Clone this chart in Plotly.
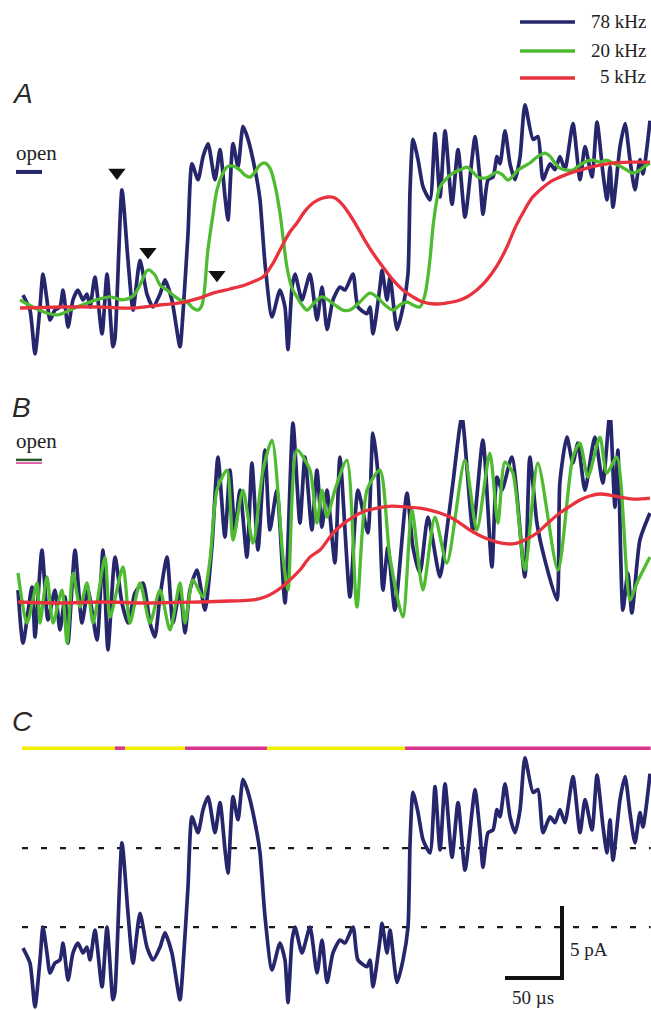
import plotly.graph_objects as go

# ---------------- data (time in µs, current in pA, closed level = 0) ----------------
# 78 kHz record (shown in A and again in C)
t78 = [4.4, 10.5, 14.9, 19.3, 21.9, 25.4, 28.1, 32.4, 36.8, 39.5,
       43.9, 48.2, 52.6, 57.0, 60.5, 63.2, 67.5, 73.7, 78.1, 83.3,
       85.0, 91.2, 96.5, 100.9, 107.0, 113.1, 118.4, 124.6, 128.9, 135.0,
       142.1, 144.7, 149.1, 152.6, 157.9, 162.3, 166.7, 172.8, 177.2, 181.6,
       184.2, 188.6, 193.0, 197.4, 201.8, 209.6, 212.3, 216.7, 222.8, 229.8,
       234.2, 236.8, 240.4, 243.0, 249.1, 256.1, 262.3, 266.7, 271.1, 276.3,
       282.5, 286.8, 293.9, 298.2, 306.1, 308.8, 311.4, 317.5, 319.3, 323.7,
       326.3, 332.5, 337.7, 342.1, 343.9, 346.5, 350.9, 355.3, 361.4, 365.8,
       370.2, 374.6, 380.7, 386.0, 392.1, 398.2, 400.9, 405.3, 407.9, 412.3,
       416.7, 420.2, 422.8, 427.2, 431.6, 436.0, 440.4, 444.7, 451.8, 456.1,
       460.5, 466.7, 471.1, 475.4, 479.8, 486.8, 493.0, 497.4, 503.5, 507.9,
       513.2, 516.7, 519.3, 521.9, 528.1, 532.5, 536.8, 541.2, 545.6, 548.2,
       554.4]
i78 = [0.69, -0.35, -3.4, -0.14, 2.15, 0.35, -1.04, -0.35, -0.14, 1.04,
       -1.53, 0.35, 1.04, 0.35, 0.76, -0.14, 1.94, -2.0, 2.15, -2.9,
       -2.4, 8.0, 3.1, -0.35, 3.1, 0.76, -0.14, 0.76, 1.74, 0.35,
       -2.9, -0.6, 4.9, 9.8, 8.7, 10.3, 11.2, 8.7, 10.8, 7.5,
       5.9, 11.2, 9.6, 12.4, 11.5, 8.7, 7.3, 2.85, -0.83, 1.04,
       -0.14, -3.1, 1.25, 2.15, 0.35, 2.15, -1.04, 1.25, -1.7, 0.35,
       1.25, 1.04, 2.15, -0.14, -0.6, -0.14, -2.0, 1.25, 2.4, 0.35,
       1.94, -1.7, -0.14, 2.15, 8.0, 11.5, 10.1, 8.2, 7.3, 11.9,
       7.5, 12.1, 7.0, 10.8, 6.1, 10.1, 11.7, 8.7, 6.3, 8.7,
       8.9, 10.3, 9.8, 12.1, 9.8, 8.7, 10.3, 13.9, 11.5, 11.7,
       8.7, 9.8, 9.4, 10.3, 9.4, 12.6, 8.7, 11.0, 8.9, 12.7,
       9.1, 7.3, 9.6, 6.8, 11.0, 12.6, 10.1, 8.0, 10.1, 9.1,
       12.8]

# A: 20 kHz filtered
t20A = [1.8, 14.9, 25.4, 34.2, 45.6, 51.7, 63.1, 71.9, 80.7, 92.1,
        100.9, 107.0, 114.0, 120.1, 124.5, 130.7, 135.9, 142.1, 148.2, 153.5,
        157.9, 161.4, 166.6, 171.0, 174.5, 178.9, 183.3, 188.6, 194.7, 199.1,
        203.5, 207.8, 212.2, 216.6, 221.0, 225.4, 229.8, 233.3, 235.9, 240.3,
        244.7, 249.1, 253.5, 260.5, 266.6, 271.9, 278.0, 285.0, 291.2, 299.9,
        308.7, 315.7, 321.9, 328.9, 335.0, 341.2, 346.5, 352.5, 356.9, 361.3,
        364.0, 367.4, 370.1, 376.3, 381.5, 387.6, 393.8, 399.0, 403.4, 409.6,
        413.9, 420.1, 425.3, 429.7, 434.1, 438.5, 442.9, 449.0, 455.2, 462.2,
        466.6, 471.0, 475.3, 481.5, 486.7, 492.9, 499.0, 504.3, 510.4, 516.5,
        521.8, 528.0, 534.1, 539.4, 545.5, 549.9, 554.3]
i20A = [0.35, -0.21, -0.56, -0.69, -0.35, -0.14, 0.21, 0.42, 0.56, 0.35,
        0.62, 1.39, 2.43, 2.08, 1.39, 1.04, 0.69, 0.35, 0.21, -0.21,
        -0.35, 0.0, 3.82, 6.25, 7.98, 9.02, 9.58, 9.65, 9.37, 9.02,
        8.88, 9.23, 9.72, 9.86, 9.51, 8.33, 6.39, 4.16, 2.64, 1.18,
        0.56, 0.0, -0.35, 0.21, 0.56, 0.35, 0.0, -0.35, -0.35, 0.21,
        0.83, 0.49, 0.0, -0.35, 0.0, 0.21, 0.0, -0.14, 0.69, 3.12,
        5.41, 7.29, 8.19, 8.81, 9.16, 9.37, 9.58, 9.23, 8.88, 8.81,
        8.95, 9.23, 9.02, 8.68, 8.95, 9.37, 9.58, 9.86, 10.27, 10.55,
        10.34, 9.86, 9.51, 9.37, 9.37, 9.72, 9.99, 10.06, 9.92, 10.06,
        9.86, 9.65, 9.37, 9.16, 9.37, 9.65, 9.86]

# A: 5 kHz filtered
t5A = [1.8, 36.8, 71.9, 100.9, 124.5, 142.1, 159.6, 171.0, 185.9, 199.1,
       207.8, 214.9, 222.8, 229.8, 238.5, 244.7, 251.7, 258.7, 264.9, 271.9,
       278.0, 284.2, 291.2, 298.2, 305.2, 313.1, 320.1, 328.9, 337.6, 346.4,
       355.2, 365.7, 376.2, 385.0, 393.8, 402.5, 411.3, 420.1, 428.9, 435.9,
       442.9, 450.8, 457.8, 466.6, 475.3, 486.7, 499.0, 510.4, 521.8, 536.8,
       554.3]
i5A = [-0.21, -0.14, -0.14, -0.21, 0.0, 0.14, 0.49, 0.83, 1.11, 1.39,
       1.67, 1.94, 2.78, 3.82, 5.07, 5.69, 6.52, 7.08, 7.36, 7.5,
       7.43, 7.01, 6.25, 5.34, 4.37, 3.4, 2.64, 1.74, 1.04, 0.56,
       0.21, 0.07, 0.14, 0.28, 0.56, 1.04, 1.74, 2.71, 4.03, 5.34,
       6.39, 7.43, 7.98, 8.54, 8.88, 9.23, 9.51, 9.72, 9.86, 9.92,
       9.92]

# B: 78 kHz record
tB78 = [0, 4.4, 12.3, 14.9, 21.0, 26.3, 32.4, 36.8, 41.2, 43.9,
        50.0, 56.1, 61.4, 69.3, 74.5, 78.9, 85.1, 91.2, 96.5, 102.6,
        109.6, 115.8, 120.1, 124.5, 130.7, 135.9, 142.1, 146.5, 150.8, 157.0,
        164.0, 170.1, 175.4, 181.5, 185.9, 190.3, 194.7, 200.8, 205.2, 210.5,
        216.6, 221.0, 227.1, 234.2, 241.2, 247.3, 251.7, 257.8, 262.2, 266.6,
        271.0, 278.0, 282.4, 291.2, 298.2, 306.9, 311.3, 315.7, 320.1, 324.5,
        330.6, 341.2, 346.4, 352.6, 359.6, 370.1, 376.2, 381.5, 389.4, 399.0,
        407.8, 415.7, 420.1, 424.5, 433.2, 444.6, 449.0, 455.2, 462.2, 472.7,
        475.3, 481.5, 486.7, 491.1, 497.3, 506.0, 513.0, 519.2, 523.6, 526.2,
        530.6, 535.0, 538.5, 545.5, 554.3]
iB78 = [0.83, -2.85, 1.04, -2.43, 3.61, -1.25, 0.83, -1.94, 0.35, -2.85,
        3.61, -1.46, 0.83, -2.64, 3.61, -3.33, 3.12, -0.07, -1.46, 0.62,
        1.32, -1.46, -2.43, 0.35, 3.12, -1.46, 0.83, -2.15, 0.83, 2.22,
        -0.56, 3.82, 10.06, 4.51, 9.16, 5.0, 7.77, 3.12, 9.65, 3.61,
        10.55, 5.0, 7.77, -0.07, 12.42, 5.48, 10.06, 5.0, 9.16, 5.2,
        7.77, 2.71, 10.06, 0.35, 7.77, 4.79, 11.73, 8.95, 0.83, 3.82,
        -0.56, 7.56, 3.82, 2.01, 5.9, 1.74, 5.0, 8.26, 12.84, 5.0,
        11.24, 2.43, 8.68, 7.77, 10.06, 1.74, 10.06, 5.48, 2.91, 0.14,
        8.26, 11.45, 9.65, 11.03, 7.77, 11.45, 8.26, 13.12, 6.59, 10.55,
        -0.56, 2.01, -0.76, 4.3, 6.18]

# B: 20 kHz filtered
tB20 = [0, 7.9, 16.7, 19.3, 25.4, 30.7, 38.6, 43.0, 48.2, 54.4,
        60.5, 65.8, 76.3, 80.7, 92.1, 98.2, 107.0, 115.8, 124.5, 133.3,
        142.1, 146.5, 153.5, 162.2, 168.4, 174.5, 183.3, 188.6, 197.3, 206.1,
        214.9, 222.8, 232.4, 236.8, 244.7, 256.1, 262.2, 266.6, 271.0, 278.0,
        288.5, 297.3, 306.1, 317.5, 326.2, 337.6, 345.5, 355.2, 365.7, 376.2,
        392.0, 402.5, 413.9, 421.0, 427.1, 434.1, 444.6, 456.0, 473.6, 486.7,
        492.9, 499.9, 510.4, 516.5, 525.3, 536.8, 542.9, 554.3]
iB20 = [2.01, -1.46, 1.32, -1.46, 1.74, -1.46, 0.83, -2.85, 2.01, -0.35,
        1.32, -1.46, 3.12, -1.04, 2.43, -1.46, 1.32, -1.46, 0.83, -1.94,
        1.32, -1.46, 1.53, 0.35, 2.91, 7.77, 9.16, 4.3, 7.77, 4.09,
        9.16, 11.24, 3.12, 0.83, 10.55, 9.16, 5.48, 7.77, 5.9, 7.77,
        9.85, -0.35, 7.77, 9.16, 3.12, -1.04, 6.38, 0.83, 5.9, 2.71,
        9.85, 5.0, 10.34, 5.48, 9.72, 8.95, 2.22, 9.65, 2.22, 10.06,
        11.03, 8.68, 11.45, 8.95, 10.06, 0.14, 1.32, 3.12]

# B: 5 kHz filtered
tB5 = [0, 36.8, 71.9, 115.8, 159.6, 185.9, 206.1, 216.6, 223.6, 231.5,
       238.5, 247.3, 256.1, 264.9, 276.3, 285.0, 293.8, 304.3, 314.8, 328.0,
       341.2, 352.5, 361.3, 370.1, 378.9, 387.6, 396.4, 407.8, 420.1, 429.7,
       437.6, 446.4, 455.2, 464.8, 475.3, 484.4, 492.9, 501.6, 510.4, 519.2,
       528.0, 539.4, 554.3]
iB5 = [0, -0.07, 0, -0.07, 0, 0.07, 0.14, 0.35, 0.62, 1.04,
       1.53, 2.22, 3.12, 3.61, 4.79, 5.41, 5.9, 6.32, 6.52, 6.66,
       6.59, 6.52, 6.38, 6.18, 5.9, 5.48, 5.0, 4.51, 4.16, 4.03,
       4.09, 4.37, 4.79, 5.48, 6.18, 6.66, 7.08, 7.36, 7.5, 7.43,
       7.29, 7.15, 7.22]

# A: arrowheads marking brief events
arrow_t = [86.8, 114.0, 174.5]
arrow_i = [9.2, 3.7, 2.1]

# open-level markers (pA) for A and B
open_level = {"A": 9.24, "B": 9.79}

# C: detection thresholds (pA) and idealised state record
thresholds = [2.15, 7.63]
state_edges = [3.5, 85.0, 94.0, 146.5, 218.4, 339.5, 555.0]
state_names = ["closed", "open", "closed", "open", "closed", "open"]
state_level = 14.57

# scale bars
scale_t_us = 50
scale_i_pA = 5

legend_labels = ["78 kHz", "20 kHz", "5 kHz"]

# ---------------- layout geometry ----------------
W, H = 651, 1010
PX_PER_US = 1.14
PX_PER_PA = 14.4
T0_PX = 18
# panel: (top px, bottom px, px of 0 pA)
PANELS = [("A", 90, 370, 305), ("B", 420, 665, 602), ("C", 740, 1010, 958)]

BLUE = "#25266c"
GREEN = "#4fbb30"
RED = "#e8323e"
YELLOW = "#f3ef00"
MAGENTA = "#d8368f"
STATE_COLOR = {"closed": YELLOW, "open": MAGENTA}


def px(x, y):
    return x / W, 1 - y / H


fig = go.Figure()
layout_axes = {}
for n, (name, top, bot, ref) in enumerate(PANELS, start=1):
    sfx = "" if n == 1 else str(n)
    layout_axes["xaxis" + sfx] = dict(domain=[0, 1], range=[-T0_PX / PX_PER_US, (W - T0_PX) / PX_PER_US],
                                      visible=False, fixedrange=True, anchor="y" + sfx)
    layout_axes["yaxis" + sfx] = dict(domain=[1 - bot / H, 1 - top / H],
                                      range=[(ref - bot) / PX_PER_PA, (ref - top) / PX_PER_PA],
                                      visible=False, fixedrange=True, anchor="x" + sfx)


def add_line(t, i, color, width, n, smoothing=0.7, dash=None, shape="spline"):
    sfx = "" if n == 1 else str(n)
    ln = dict(color=color, width=width, shape=shape)
    if shape == "spline":
        ln["smoothing"] = smoothing
    if dash:
        ln["dash"] = dash
    fig.add_trace(go.Scatter(x=t, y=i, mode="lines", line=ln, xaxis="x" + sfx, yaxis="y" + sfx,
                             showlegend=False, hoverinfo="skip"))


# Panel A
add_line(t78, i78, BLUE, 3.7, 1, 0.6)
add_line(t20A, i20A, GREEN, 3.3, 1, 0.9)
add_line(t5A, i5A, RED, 3.3, 1, 1.0)
fig.add_trace(go.Scatter(x=arrow_t, y=arrow_i, mode="markers",
                         marker=dict(symbol="triangle-down", size=15, color="#111111"),
                         xaxis="x", yaxis="y", showlegend=False, hoverinfo="skip"))

# Panel B
add_line(tB78, iB78, BLUE, 3.7, 2, 0.6)
add_line(tB20, iB20, GREEN, 3.3, 2, 0.7)
add_line(tB5, iB5, RED, 3.3, 2, 1.0)

# Panel C
for th in thresholds:
    add_line([state_edges[0], state_edges[-1]], [th, th], "#1a1a1a", 2.3, 3, dash="6px,13px", shape="linear")
for k, st in enumerate(state_names):
    add_line([state_edges[k], state_edges[k + 1]], [state_level, state_level], STATE_COLOR[st], 3.5, 3,
             shape="linear")
add_line(t78, i78, BLUE, 3.7, 3, 0.6)

# scale bar (corner located in C axis units)
corner_t = (562 - T0_PX) / PX_PER_US
corner_i = (958 - 978) / PX_PER_PA
add_line([corner_t - scale_t_us, corner_t, corner_t], [corner_i, corner_i, corner_i + scale_i_pA],
         "#111111", 4, 3, shape="linear")

# open-level markers
shapes = []
x0m, x1m = (16 - T0_PX) / PX_PER_US, (42 - T0_PX) / PX_PER_US
shapes.append(dict(type="line", xref="x", yref="y", x0=x0m, x1=x1m, y0=open_level["A"], y1=open_level["A"],
                   line=dict(color=BLUE, width=4)))
shapes.append(dict(type="line", xref="x2", yref="y2", x0=x0m, x1=x1m, y0=open_level["B"] + 0.08,
                   y1=open_level["B"] + 0.08, line=dict(color="#2d5a2d", width=2.5)))
shapes.append(dict(type="line", xref="x2", yref="y2", x0=x0m, x1=x1m, y0=open_level["B"] - 0.14,
                   y1=open_level["B"] - 0.14, line=dict(color=MAGENTA, width=1.5)))

# custom legend
leg_colors = [BLUE, GREEN, RED]
leg_y = [22, 51, 78]
annotations = []
for lab, col, yy in zip(legend_labels, leg_colors, leg_y):
    xa, ya = px(520, yy)
    xb, _ = px(575, yy)
    shapes.append(dict(type="line", xref="paper", yref="paper", x0=xa, x1=xb, y0=ya, y1=ya,
                       line=dict(color=col, width=3.5)))
    xt, yt = px(648, yy - 1)
    annotations.append(dict(xref="paper", yref="paper", x=xt, y=yt, text=lab, showarrow=False,
                            xanchor="right", yanchor="middle",
                            font=dict(family="Liberation Serif, serif", size=19, color="#222222")))

serif = dict(family="Liberation Serif, serif", size=19, color="#222222")
for name, cx, cy in [("A", 22, 94), ("B", 21, 407), ("C", 22, 721)]:
    xx, yy = px(cx, cy)
    annotations.append(dict(xref="paper", yref="paper", x=xx, y=yy, text="<i>" + name + "</i>",
                            showarrow=False, xanchor="center", yanchor="middle",
                            font=dict(family="Liberation Sans, Arial, sans-serif", size=28, color="#2a2a2a")))
for cy in [153, 441]:
    xx, yy = px(36, cy)
    annotations.append(dict(xref="paper", yref="paper", x=xx, y=yy, text="open", showarrow=False,
                            xanchor="center", yanchor="middle",
                            font=dict(family="Liberation Serif, serif", size=21, color="#222222")))
xx, yy = px(568, 949)
annotations.append(dict(xref="paper", yref="paper", x=xx, y=yy, text="5 pA", showarrow=False,
                        xanchor="left", yanchor="middle", font=serif))
xx, yy = px(533, 997)
annotations.append(dict(xref="paper", yref="paper", x=xx, y=yy, text="50 µs", showarrow=False,
                        xanchor="center", yanchor="middle", font=serif))

fig.update_layout(width=W, height=H, margin=dict(l=0, r=0, t=0, b=0),
                  paper_bgcolor="white", plot_bgcolor="rgba(0,0,0,0)",
                  shapes=shapes, annotations=annotations, showlegend=False, **layout_axes)

fig.write_html("out.html", config={"displayModeBar": False},
               post_script="document.body.style.margin='0';document.body.style.overflow='hidden';")
